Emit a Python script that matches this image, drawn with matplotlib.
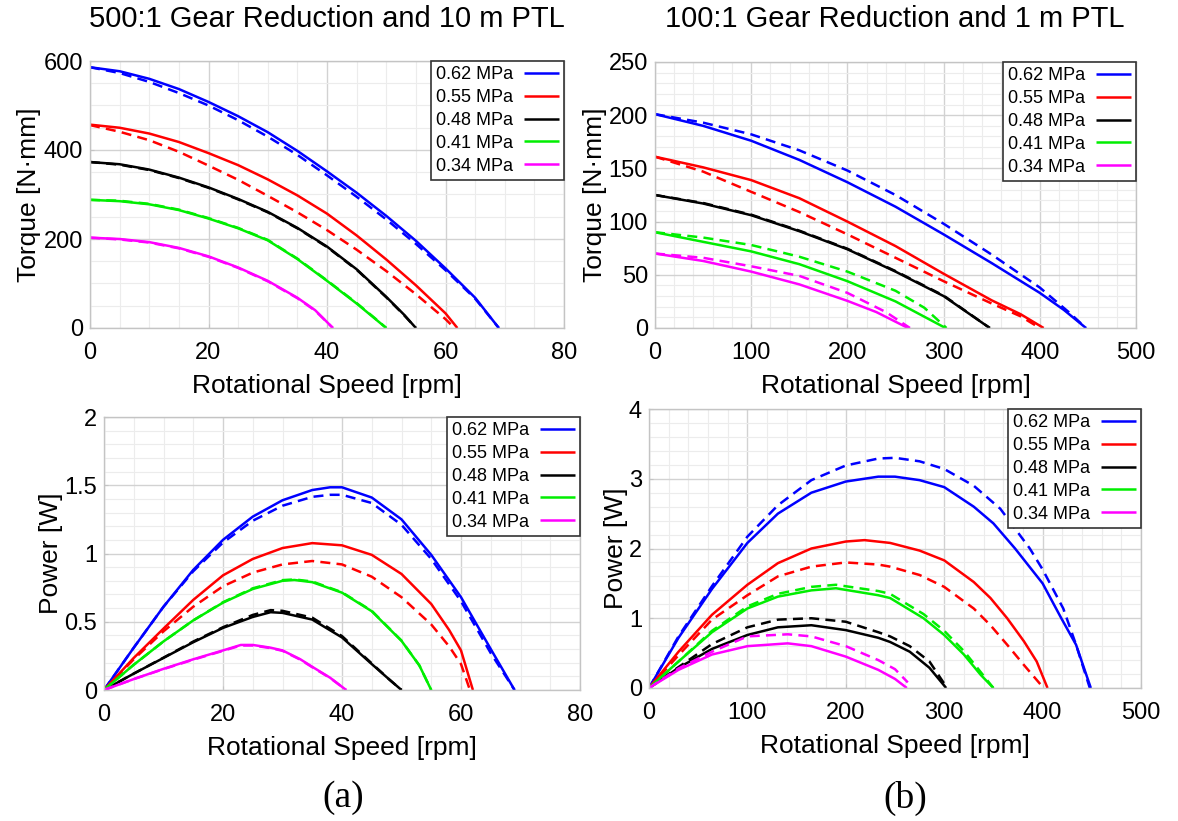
import matplotlib
matplotlib.use("Agg")
import matplotlib.pyplot as plt
from matplotlib.ticker import MultipleLocator, FuncFormatter

plt.rcParams['font.family'] = ['Liberation Sans', 'DejaVu Sans']

pressures = ['0.62 MPa', '0.55 MPa', '0.48 MPa', '0.41 MPa', '0.34 MPa']
colors = ['#0000ff', '#ff0000', '#000000', '#00ee00', '#ff00ff']

# ---------------- (a) 500:1 torque ----------------
a_tq_062_solid_x = [0, 5, 10, 15, 20, 25, 30, 35, 40, 45, 50, 55, 60, 65, 69]
a_tq_062_solid_y = [586, 577, 560, 537, 508, 476, 440, 398, 352, 304, 252, 196, 134, 68, 0]
a_tq_062_dash_x = [0, 5, 10, 15, 20, 25, 30, 35, 40, 45, 50, 55, 60, 65, 69]
a_tq_062_dash_y = [586, 573, 553, 528, 500, 467, 430, 389, 343, 295, 244, 189, 130, 66, 0]
a_tq_055_solid_x = [0, 5, 10, 15, 20, 25, 30, 35, 40, 45, 50, 55, 60, 62]
a_tq_055_solid_y = [457, 450, 437, 418, 393, 366, 334, 298, 257, 208, 154, 96, 33, 0]
a_tq_055_dash_x = [0, 5, 10, 15, 20, 25, 30, 35, 40, 45, 50, 55, 60, 61.5]
a_tq_055_dash_y = [456, 441, 422, 396, 365, 333, 297, 260, 220, 176, 128, 76, 20, 0]
a_tq_048_solid_x = [0, 5, 10, 15, 20, 25, 30, 35, 40, 45, 50, 53, 55]
a_tq_048_solid_y = [373, 368, 356, 338, 316, 290, 261, 225, 183, 132, 70, 30, 0]
a_tq_048_dash_x = [0, 5, 10, 15, 20, 25, 30, 35, 40, 45, 50, 53, 55]
a_tq_048_dash_y = [373, 367, 355, 337, 315, 289, 260, 224, 182, 131, 69, 29, 0]
a_tq_041_solid_x = [0, 5, 10, 15, 20, 25, 30, 35, 40, 45, 48, 50]
a_tq_041_solid_y = [288, 285, 278, 265, 246, 224, 197, 155, 106, 55, 22, 0]
a_tq_041_dash_x = [0, 5, 10, 15, 20, 25, 30, 35, 40, 45, 48, 50]
a_tq_041_dash_y = [288, 286, 279, 266, 247, 225, 198, 156, 107, 56, 23, 0]
a_tq_034_solid_x = [0, 5, 10, 15, 20, 25, 30, 35, 38, 41]
a_tq_034_solid_y = [203, 200, 193, 180, 161, 136, 106, 68, 40, 0]
a_tq_034_dash_x = [0, 5, 10, 15, 20, 25, 30, 35, 38, 41]
a_tq_034_dash_y = [203, 199, 192, 179, 160, 135, 105, 67, 39, 0]

# ---------------- (b) 100:1 torque ----------------
b_tq_062_solid_x = [0, 50, 100, 150, 200, 250, 300, 350, 400, 425, 448]
b_tq_062_solid_y = [201, 190, 176, 158, 137, 114, 88, 61, 33, 17, 0]
b_tq_062_dash_x = [0, 50, 100, 150, 200, 250, 300, 350, 400, 430, 448]
b_tq_062_dash_y = [201, 193, 182, 167, 148, 125, 98, 69, 38, 15, 0]
b_tq_055_solid_x = [0, 50, 100, 150, 200, 250, 300, 350, 380, 404]
b_tq_055_solid_y = [161, 151, 139, 122, 100, 77, 51, 26, 13, 0]
b_tq_055_dash_x = [0, 50, 100, 150, 200, 250, 300, 350, 380, 400]
b_tq_055_dash_y = [161, 147, 128, 109, 88, 66, 44, 23, 11, 0]
b_tq_048_solid_x = [0, 50, 100, 150, 200, 250, 300, 348]
b_tq_048_solid_y = [125, 117, 106, 91, 74, 53, 30, 0]
b_tq_048_dash_x = [0, 50, 100, 150, 200, 250, 300, 348]
b_tq_048_dash_y = [125, 117.5, 106.5, 91.5, 74.5, 53.5, 30.5, 0]
b_tq_041_solid_x = [0, 50, 100, 150, 200, 250, 302]
b_tq_041_solid_y = [90, 81, 72, 60, 44, 25, 0]
b_tq_041_dash_x = [0, 50, 100, 150, 200, 250, 280, 303]
b_tq_041_dash_y = [90, 85, 78, 67, 53, 35, 19, 0]
b_tq_034_solid_x = [0, 50, 100, 150, 200, 230, 263]
b_tq_034_solid_y = [70, 63, 53, 41, 25.5, 15, 0]
b_tq_034_dash_x = [0, 50, 100, 150, 200, 240, 265]
b_tq_034_dash_y = [70, 66, 58, 49, 33, 15, 0]

# ---------------- (a) 500:1 power ----------------
a_pw_062_solid_x = [0, 5, 10, 15, 20, 25, 30, 35, 38, 40, 45, 50, 55, 60, 65, 69]
a_pw_062_solid_y = [0, 0.31, 0.61, 0.88, 1.10, 1.27, 1.39, 1.465, 1.485, 1.485, 1.41, 1.25, 0.99, 0.68, 0.30, 0]
a_pw_062_dash_x = [0, 5, 10, 15, 20, 25, 30, 35, 38, 40, 45, 50, 55, 60, 65, 69]
a_pw_062_dash_y = [0, 0.31, 0.61, 0.87, 1.08, 1.24, 1.35, 1.415, 1.43, 1.43, 1.37, 1.21, 0.96, 0.65, 0.27, 0]
a_pw_055_solid_x = [0, 5, 10, 15, 20, 25, 30, 35, 40, 45, 50, 55, 58, 60, 62]
a_pw_055_solid_y = [0, 0.235, 0.45, 0.66, 0.84, 0.96, 1.04, 1.076, 1.06, 0.99, 0.85, 0.63, 0.44, 0.29, 0]
a_pw_055_dash_x = [0, 5, 10, 15, 20, 25, 30, 35, 40, 45, 50, 55, 58, 60, 61.5]
a_pw_055_dash_y = [0, 0.225, 0.43, 0.61, 0.76, 0.86, 0.92, 0.945, 0.92, 0.83, 0.68, 0.48, 0.32, 0.19, 0]
a_pw_048_solid_x = [0, 5, 10, 15, 20, 25, 28, 30, 35, 40, 45, 48, 50]
a_pw_048_solid_y = [0, 0.12, 0.235, 0.35, 0.455, 0.535, 0.57, 0.565, 0.516, 0.385, 0.19, 0.075, 0]
a_pw_048_dash_x = [0, 5, 10, 15, 20, 25, 28, 30, 35, 40, 45, 48, 50]
a_pw_048_dash_y = [0, 0.12, 0.237, 0.355, 0.46, 0.55, 0.585, 0.58, 0.53, 0.395, 0.195, 0.075, 0]
a_pw_041_solid_x = [0, 5, 10, 15, 20, 25, 30, 32, 35, 40, 45, 50, 53, 55]
a_pw_041_solid_y = [0, 0.185, 0.356, 0.51, 0.64, 0.74, 0.80, 0.806, 0.79, 0.713, 0.577, 0.36, 0.18, 0]
a_pw_041_dash_x = [0, 5, 10, 15, 20, 25, 30, 32, 35, 40, 45, 50, 53, 55]
a_pw_041_dash_y = [0, 0.185, 0.356, 0.51, 0.643, 0.745, 0.805, 0.81, 0.795, 0.716, 0.58, 0.362, 0.18, 0]
a_pw_034_solid_x = [0, 5, 10, 15, 20, 23, 25, 28, 30, 33, 35, 38, 40.7]
a_pw_034_solid_y = [0, 0.08, 0.155, 0.225, 0.29, 0.33, 0.33, 0.31, 0.29, 0.225, 0.17, 0.09, 0]
a_pw_034_dash_x = [0, 5, 10, 15, 20, 23, 25, 28, 30, 33, 35, 38, 40.7]
a_pw_034_dash_y = [0, 0.08, 0.153, 0.222, 0.287, 0.326, 0.326, 0.307, 0.287, 0.222, 0.167, 0.088, 0]

# ---------------- (b) 100:1 power ----------------
b_pw_062_solid_x = [0, 30, 64, 100, 131, 165, 200, 233, 250, 275, 300, 330, 350, 372, 400, 419, 434, 449]
b_pw_062_solid_y = [0, 0.72, 1.42, 2.08, 2.5, 2.8, 2.96, 3.03, 3.03, 2.98, 2.88, 2.6, 2.36, 2.0, 1.5, 1.0, 0.62, 0]
b_pw_062_dash_x = [0, 30, 64, 100, 131, 165, 200, 233, 250, 275, 300, 330, 357, 387, 400, 421, 434, 448]
b_pw_062_dash_y = [0, 0.74, 1.46, 2.17, 2.62, 2.98, 3.19, 3.29, 3.3, 3.25, 3.14, 2.9, 2.57, 2.0, 1.7, 1.14, 0.62, 0]
b_pw_055_solid_x = [0, 30, 64, 100, 131, 165, 200, 219, 245, 275, 300, 330, 347, 364, 381, 394, 405]
b_pw_055_solid_y = [0, 0.52, 1.05, 1.48, 1.79, 2.0, 2.1, 2.12, 2.08, 1.97, 1.83, 1.52, 1.29, 1.0, 0.67, 0.38, 0]
b_pw_055_dash_x = [0, 30, 64, 100, 131, 165, 200, 233, 245, 275, 300, 330, 347, 364, 381, 401]
b_pw_055_dash_y = [0, 0.47, 0.98, 1.33, 1.6, 1.74, 1.8, 1.77, 1.74, 1.62, 1.45, 1.14, 0.9, 0.62, 0.33, 0]
b_pw_048_solid_x = [0, 30, 64, 100, 131, 165, 200, 233, 245, 265, 285, 302]
b_pw_048_solid_y = [0, 0.29, 0.56, 0.76, 0.87, 0.9, 0.83, 0.72, 0.66, 0.52, 0.29, 0]
b_pw_048_dash_x = [0, 30, 64, 100, 131, 165, 200, 233, 245, 265, 285, 303]
b_pw_048_dash_y = [0, 0.3, 0.63, 0.87, 0.98, 1.0, 0.95, 0.8, 0.74, 0.6, 0.38, 0]
b_pw_041_solid_x = [0, 30, 64, 100, 131, 165, 190, 233, 245, 279, 300, 320, 337, 350]
b_pw_041_solid_y = [0, 0.38, 0.8, 1.14, 1.31, 1.40, 1.43, 1.33, 1.29, 1.0, 0.76, 0.48, 0.19, 0]
b_pw_041_dash_x = [0, 30, 64, 100, 131, 165, 190, 233, 245, 279, 300, 320, 337, 350]
b_pw_041_dash_y = [0, 0.38, 0.82, 1.17, 1.35, 1.45, 1.48, 1.39, 1.35, 1.06, 0.82, 0.53, 0.23, 0]
b_pw_034_solid_x = [0, 30, 64, 100, 141, 165, 200, 233, 250, 262]
b_pw_034_solid_y = [0, 0.26, 0.48, 0.6, 0.64, 0.6, 0.45, 0.26, 0.13, 0]
b_pw_034_dash_x = [0, 30, 64, 100, 141, 165, 200, 233, 250, 263]
b_pw_034_dash_y = [0, 0.28, 0.52, 0.74, 0.77, 0.74, 0.6, 0.4, 0.27, 0.08]

panels = {
    'a_tq': [(a_tq_062_solid_x, a_tq_062_solid_y, a_tq_062_dash_x, a_tq_062_dash_y),
             (a_tq_055_solid_x, a_tq_055_solid_y, a_tq_055_dash_x, a_tq_055_dash_y),
             (a_tq_048_solid_x, a_tq_048_solid_y, a_tq_048_dash_x, a_tq_048_dash_y),
             (a_tq_041_solid_x, a_tq_041_solid_y, a_tq_041_dash_x, a_tq_041_dash_y),
             (a_tq_034_solid_x, a_tq_034_solid_y, a_tq_034_dash_x, a_tq_034_dash_y)],
    'b_tq': [(b_tq_062_solid_x, b_tq_062_solid_y, b_tq_062_dash_x, b_tq_062_dash_y),
             (b_tq_055_solid_x, b_tq_055_solid_y, b_tq_055_dash_x, b_tq_055_dash_y),
             (b_tq_048_solid_x, b_tq_048_solid_y, b_tq_048_dash_x, b_tq_048_dash_y),
             (b_tq_041_solid_x, b_tq_041_solid_y, b_tq_041_dash_x, b_tq_041_dash_y),
             (b_tq_034_solid_x, b_tq_034_solid_y, b_tq_034_dash_x, b_tq_034_dash_y)],
    'a_pw': [(a_pw_062_solid_x, a_pw_062_solid_y, a_pw_062_dash_x, a_pw_062_dash_y),
             (a_pw_055_solid_x, a_pw_055_solid_y, a_pw_055_dash_x, a_pw_055_dash_y),
             (a_pw_048_solid_x, a_pw_048_solid_y, a_pw_048_dash_x, a_pw_048_dash_y),
             (a_pw_041_solid_x, a_pw_041_solid_y, a_pw_041_dash_x, a_pw_041_dash_y),
             (a_pw_034_solid_x, a_pw_034_solid_y, a_pw_034_dash_x, a_pw_034_dash_y)],
    'b_pw': [(b_pw_062_solid_x, b_pw_062_solid_y, b_pw_062_dash_x, b_pw_062_dash_y),
             (b_pw_055_solid_x, b_pw_055_solid_y, b_pw_055_dash_x, b_pw_055_dash_y),
             (b_pw_048_solid_x, b_pw_048_solid_y, b_pw_048_dash_x, b_pw_048_dash_y),
             (b_pw_041_solid_x, b_pw_041_solid_y, b_pw_041_dash_x, b_pw_041_dash_y),
             (b_pw_034_solid_x, b_pw_034_solid_y, b_pw_034_dash_x, b_pw_034_dash_y)],
}

W, H = 1178, 821
fig = plt.figure(figsize=(W / 100, H / 100), dpi=100)


def px_axes(left, top, right, bottom):
    return fig.add_axes([left / W, 1 - bottom / H, (right - left) / W, (bottom - top) / H])


specs = {
    'a_tq': dict(box=(90, 61, 564, 328), xlim=(0, 80), ylim=(0, 600), xmaj=20, xmin=5, ymaj=200, ymin=50,
                 ylabel='Torque [N·mm]', ylpad=1.5),
    'b_tq': dict(box=(655, 62, 1136, 328), xlim=(0, 500), ylim=(0, 250), xmaj=100, xmin=20, ymaj=50, ymin=10,
                 ylabel='Torque [N·mm]', ylpad=1.5),
    'a_pw': dict(box=(104, 417, 580, 690), xlim=(0, 80), ylim=(0, 2), xmaj=20, xmin=5, ymaj=0.5, ymin=0.1,
                 ylabel='Power [W]', ylpad=1.0),
    'b_pw': dict(box=(649, 409, 1141, 688), xlim=(0, 500), ylim=(0, 4), xmaj=100, xmin=20, ymaj=1, ymin=0.2,
                 ylabel='Power [W]', ylpad=1.0),
}

gfmt = FuncFormatter(lambda v, p: ('%g' % round(v, 6)))

for key, sp in specs.items():
    ax = px_axes(*sp['box'])
    ax.set_xlim(*sp['xlim'])
    ax.set_ylim(*sp['ylim'])
    ax.xaxis.set_major_locator(MultipleLocator(sp['xmaj']))
    ax.xaxis.set_minor_locator(MultipleLocator(sp['xmin']))
    ax.yaxis.set_major_locator(MultipleLocator(sp['ymaj']))
    ax.yaxis.set_minor_locator(MultipleLocator(sp['ymin']))
    ax.xaxis.set_major_formatter(gfmt)
    ax.yaxis.set_major_formatter(gfmt)
    ax.grid(which='major', color='#d2d2d2', lw=1.0)
    ax.grid(which='minor', color='#ececec', lw=0.8)
    ax.set_axisbelow(True)
    for s in ax.spines.values():
        s.set_color('#c4c4c4')
        s.set_linewidth(1.0)
    ax.tick_params(which='major', direction='in', length=3, color='#c4c4c4', labelsize=17)
    ax.tick_params(axis='x', which='major', pad=10)
    ax.tick_params(axis='y', which='major', pad=5)
    ax.tick_params(which='minor', length=0)
    handles = []
    for (sx, sy, dx, dy), c, lab in zip(panels[key], colors, pressures):
        h, = ax.plot(sx, sy, color=c, lw=1.8, solid_capstyle='butt', solid_joinstyle='round', label=lab)
        ax.plot(dx, dy, color=c, lw=1.8, dashes=(4, 2.5), dash_joinstyle='round')
        handles.append(h)
    leg = ax.legend(handles=handles, loc='upper right', markerfirst=False, fontsize=13,
                    frameon=True, fancybox=False, framealpha=1, edgecolor='#333333',
                    borderaxespad=0.0, labelspacing=0.32, handlelength=1.9, handletextpad=0.6,
                    borderpad=0.3)
    leg.get_frame().set_linewidth(1.2)
    ax.set_xlabel('Rotational Speed [rpm]', fontsize=19, labelpad=7)
    ax.set_ylabel(sp['ylabel'], fontsize=19, labelpad=sp['ylpad'])

fig.text(327 / W, 1 - 19 / H, '500:1 Gear Reduction and 10 m PTL', fontsize=21, ha='center', va='center')
fig.text(895 / W, 1 - 19 / H, '100:1 Gear Reduction and 1 m PTL', fontsize=21, ha='center', va='center')
fig.text(343 / W, 1 - 798 / H, '(a)', fontsize=27, ha='center', va='center', family='Liberation Serif')
fig.text(905 / W, 1 - 798 / H, '(b)', fontsize=27, ha='center', va='center', family='Liberation Serif')

fig.savefig('out.png', dpi=100)
